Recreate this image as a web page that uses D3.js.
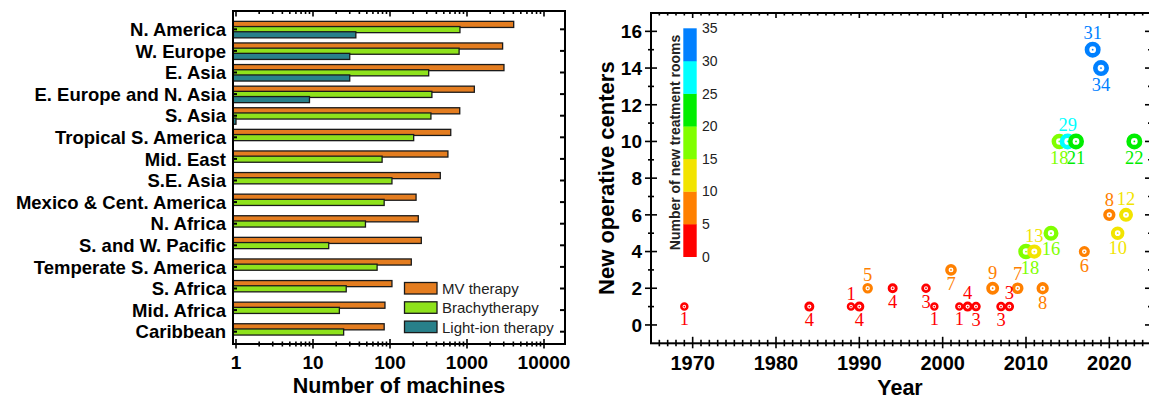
<!DOCTYPE html>
<html>
<head>
<meta charset="utf-8">
<script src="https://cdn.jsdelivr.net/npm/d3@7"></script>
<style>
  html, body { margin: 0; padding: 0; background: #fff; }
  svg { display: block; }
</style>
</head>
<body>
<svg id="chart" width="1149" height="399"></svg>
<script>
// ---- Radiotherapy machines by world region ----
const regions = [
  "N. America", "W. Europe", "E. Asia", "E. Europe and N. Asia", "S. Asia",
  "Tropical S. America", "Mid. East", "S.E. Asia", "Mexico & Cent. America",
  "N. Africa", "S. and W. Pacific", "Temperate S. America", "S. Africa",
  "Mid. Africa", "Caribbean"
];
const mvTherapy    = [4040, 2900, 3020, 1245, 805, 615, 565, 450, 218, 233, 255, 189, 106, 86, 84];
const brachytherapy = [810, 790, 318, 350, 340, 203, 79, 106, 84, 48, 16, 68, 27, 22, 25];
const lightIon     = [36, 30, 30, 9, 1, null, null, null, null, null, null, null, null, null, null];
const seriesNames  = ["MV therapy", "Brachytherapy", "Light-ion therapy"];
const machineTicks = [1, 10, 100, 1000, 10000];

// ---- New operative light-ion centres per year ----
const years   = [1969, 1984, 1989, 1990, 1991, 1994, 1998, 1999, 2001, 2002, 2003, 2004, 2006, 2007, 2008,
                 2009, 2010, 2011, 2012, 2013, 2014, 2015, 2016, 2017, 2018, 2019, 2020, 2021, 2022, 2023];
const centers = [1, 1, 1, 1, 2, 2, 2, 1, 3, 1, 1, 1, 2, 1, 1,
                 2, 4, 4, 2, 5, 10, 10, 10, 4, 15, 14, 6, 5, 6, 10];
const rooms   = [1, 4, 1, 4, 5, 4, 3, 1, 7, 1, 4, 3, 9, 3, 3,
                 7, 18, 13, 8, 16, 18, 29, 21, 6, 31, 34, 8, 10, 12, 22];
const labelSide = ["below", "below", "above", "below", "above", "below", "below", "below", "below", "below",
                   "above", "below", "above", "below", "above", "above", "below", "above", "below", "below",
                   "below", "above", "below", "below", "above", "below", "above", "below", "above", "below"];
const roomBins   = [5, 10, 15, 20, 25, 30];
const binColors  = ["#ff0000", "#ff8000", "#f2e400", "#80ff00", "#00ee00", "#00ffff", "#0080ff"];
const roomTicks  = [0, 5, 10, 15, 20, 25, 30, 35];

const svg = d3.select("#chart");
const SANS = "'Liberation Sans', Arial, sans-serif";
const SERIF = "'Liberation Serif', 'Times New Roman', serif";

// =================== Left panel: horizontal grouped bars ===================
(function () {
  const L = 233, R = 565, T = 11, B = 344;
  const x = d3.scaleLog().domain([Math.pow(10, -3 / 77), Math.pow(10, 329 / 77)]).range([L, R]);
  const y = d3.scalePoint().domain(regions).range([29.3, 331.7]);
  const barColors = ["#e47d20", "#8ee21c", "#28808a"];
  const offsets = [-8.6, -3.4, 1.8];
  const barH = 7.4;
  const series = [mvTherapy, brachytherapy, lightIon];

  const g = svg.append("g");

  regions.forEach((r, i) => {
    series.forEach((vals, s) => {
      const v = vals[i];
      if (v == null) return;
      g.append("rect")
        .attr("x", L)
        .attr("y", y(r) + offsets[s] + 0.65)
        .attr("width", Math.max(0, x(v) - L))
        .attr("height", barH - 1.3)
        .attr("fill", barColors[s])
        .attr("stroke", "#1a1a1a")
        .attr("stroke-width", 1.3);
    });
  });

  // frame
  g.append("rect").attr("x", L).attr("y", T).attr("width", R - L).attr("height", B - T)
    .attr("fill", "none").attr("stroke", "#000").attr("stroke-width", 2);

  // category ticks on left and right edges, with region names
  regions.forEach(r => {
    g.append("line").attr("x1", L).attr("x2", L + 4).attr("y1", y(r)).attr("y2", y(r))
      .attr("stroke", "#000").attr("stroke-width", 2);
    g.append("line").attr("x1", R - 5).attr("x2", R).attr("y1", y(r)).attr("y2", y(r))
      .attr("stroke", "#000").attr("stroke-width", 2);
    g.append("text").attr("x", 226).attr("y", y(r)).attr("dy", "0.36em")
      .attr("text-anchor", "end").attr("font-family", SANS).attr("font-weight", "bold")
      .attr("font-size", 18.5).text(r);
  });

  // log ticks on bottom (crossing) and top (inward)
  x.ticks().forEach(t => {
    const major = machineTicks.includes(t);
    const px = x(t);
    g.append("line").attr("x1", px).attr("x2", px)
      .attr("y1", B - (major ? 5 : 2.5)).attr("y2", B + (major ? 4.5 : 2.5))
      .attr("stroke", "#000").attr("stroke-width", 1.6);
    g.append("line").attr("x1", px).attr("x2", px)
      .attr("y1", T).attr("y2", T + (major ? 5.5 : 3))
      .attr("stroke", "#000").attr("stroke-width", 1.6);
  });
  machineTicks.forEach(t => {
    g.append("text").attr("x", x(t)).attr("y", 368.5).attr("text-anchor", "middle")
      .attr("font-family", SANS).attr("font-weight", "bold").attr("font-size", 19).text(t);
  });
  g.append("text").attr("x", (L + R) / 2).attr("y", 392.5).attr("text-anchor", "middle")
    .attr("font-family", SANS).attr("font-weight", "bold").attr("font-size", 21.5)
    .text("Number of machines");

  // legend
  seriesNames.forEach((name, s) => {
    const ly = 282.5 + s * 19.3;
    g.append("rect").attr("x", 404.5).attr("y", ly).attr("width", 32.5).attr("height", 11.5)
      .attr("fill", barColors[s]).attr("stroke", "#1a1a1a").attr("stroke-width", 1.3);
    g.append("text").attr("x", 442).attr("y", ly + 6).attr("dy", "0.36em")
      .attr("font-family", SANS).attr("font-size", 15).attr("fill", "#222").text(name);
  });
})();

// =================== Right panel: centres opened per year ===================
(function () {
  const L = 651, R = 1151, T = 13, B = 343.3;
  const x = d3.scaleLinear().domain([1965, 2025]).range([L, R]);
  const y = d3.scaleLinear().domain([-1, 17]).range([B, T]);
  const color = d3.scaleThreshold().domain(roomBins).range(binColors);
  const diam = d3.scaleLinear().domain([1, 5, 10, 20, 35]).range([8.5, 10.5, 13.5, 16, 16]).clamp(true);

  const g = svg.append("g");

  // frame
  g.append("rect").attr("x", L).attr("y", T).attr("width", R - L).attr("height", B - T)
    .attr("fill", "none").attr("stroke", "#000").attr("stroke-width", 2);

  // year ticks
  d3.range(1966, 2025).forEach(yr => {
    const major = yr % 10 === 0;
    const px = x(yr);
    g.append("line").attr("x1", px).attr("x2", px)
      .attr("y1", B - (major ? 6.5 : 3.5)).attr("y2", B + (major ? 5 : 3))
      .attr("stroke", "#000").attr("stroke-width", 1.6);
    g.append("line").attr("x1", px).attr("x2", px)
      .attr("y1", T).attr("y2", T + (major ? 5 : 2.5))
      .attr("stroke", "#000").attr("stroke-width", 1.6);
    if (major) {
      g.append("text").attr("x", px).attr("y", 370).attr("text-anchor", "middle")
        .attr("font-family", SANS).attr("font-weight", "bold").attr("font-size", 20).text(yr);
    }
  });
  g.append("text").attr("x", (L + R) / 2 - 1).attr("y", 394.5).attr("text-anchor", "middle")
    .attr("font-family", SANS).attr("font-weight", "bold").attr("font-size", 21.5).text("Year");

  // center-count ticks
  d3.range(0, 17).forEach(v => {
    const major = v % 2 === 0;
    const py = y(v);
    g.append("line").attr("x1", L - (major ? 6 : 3)).attr("x2", L + (major ? 6 : 3))
      .attr("y1", py).attr("y2", py).attr("stroke", "#000").attr("stroke-width", 1.6);
    g.append("line").attr("x1", R - (major ? 6 : 3)).attr("x2", R)
      .attr("y1", py).attr("y2", py).attr("stroke", "#000").attr("stroke-width", 1.6);
    if (major) {
      g.append("text").attr("x", L - 9).attr("y", py).attr("dy", "0.36em").attr("text-anchor", "end")
        .attr("font-family", SANS).attr("font-weight", "bold").attr("font-size", 19).text(v);
    }
  });
  g.append("text")
    .attr("transform", `translate(${614},${(T + B) / 2}) rotate(-90)`)
    .attr("text-anchor", "middle").attr("font-family", SANS).attr("font-weight", "bold")
    .attr("font-size", 22).text("New operative centers");

  // colour bar
  const cb = d3.scaleLinear().domain([0, 35]).range([256.7, 28.3]);
  binColors.forEach((c, i) => {
    const lo = i * 5, hi = lo + 5;
    g.append("rect").attr("x", 683.3).attr("width", 13.4)
      .attr("y", cb(hi)).attr("height", cb(lo) - cb(hi) + 0.3).attr("fill", c);
  });
  roomTicks.forEach(t => {
    g.append("text").attr("x", 702).attr("y", cb(t)).attr("dy", "0.36em")
      .attr("font-family", SANS).attr("font-size", 14).attr("fill", "#222").text(t);
  });
  g.append("text")
    .attr("transform", `translate(${680},${(cb(0) + cb(35)) / 2}) rotate(-90)`)
    .attr("text-anchor", "middle").attr("font-family", SANS).attr("font-weight", "bold")
    .attr("font-size", 14).attr("fill", "#222").text("Number of new treatment rooms");

  // ring markers
  years.forEach((yr, i) => {
    const cx = x(yr), cy = y(centers[i]);
    const d = diam(rooms[i]);
    const sw = d * 0.29;
    const c = color(rooms[i]);
    g.append("circle").attr("cx", cx).attr("cy", cy).attr("r", d / 2 - sw / 2)
      .attr("fill", "#fff").attr("stroke", c).attr("stroke-width", sw);
    g.append("circle").attr("cx", cx).attr("cy", cy).attr("r", 0.9).attr("fill", c);
  });

  // room-count labels
  years.forEach((yr, i) => {
    const cx = x(yr), cy = y(centers[i]);
    const r = diam(rooms[i]) / 2;
    const above = labelSide[i] === "above";
    g.append("text")
      .attr("x", cx + (yr === 2010 ? 4 : 0))
      .attr("y", above ? cy - r - 2.5 : cy + r + 14.5)
      .attr("text-anchor", "middle").attr("font-family", SERIF).attr("font-size", 18.5)
      .attr("fill", color(rooms[i])).text(rooms[i]);
  });
})();
</script>
</body>
</html>
